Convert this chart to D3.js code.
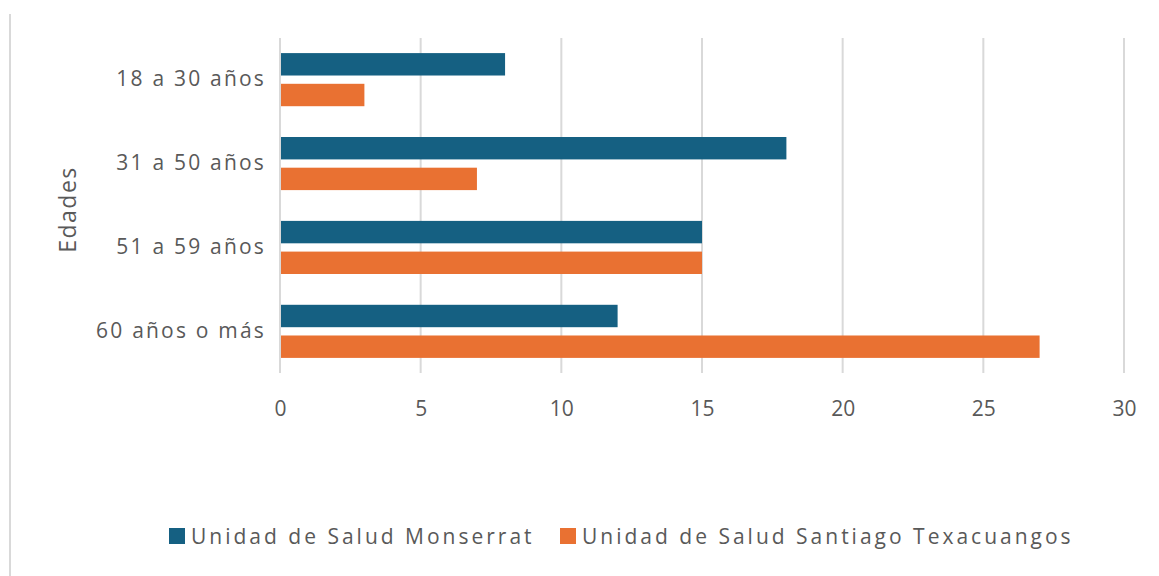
<!DOCTYPE html>
<html>
<head>
<meta charset="utf-8">
<script src="https://cdn.jsdelivr.net/npm/d3@7"></script>
<style>
  body { margin: 0; background: #fff; }
  text { font-family: "Open Sans", "Noto Sans", sans-serif; fill: #595959; }
</style>
</head>
<body>
<svg id="chart"></svg>
<script>
const categories = ["18 a 30 años", "31 a 50 años", "51 a 59 años", "60 años o más"];
const seriesNames = ["Unidad de Salud Monserrat", "Unidad de Salud Santiago Texacuangos"];
const monserrat = [8, 18, 15, 12];
const texacuangos = [3, 7, 15, 27];
const xTicks = [0, 5, 10, 15, 20, 25, 30];
const colors = ["#156082", "#e97132"];

const width = 1159, height = 576;
const margin = {top: 38, right: 35, bottom: 203, left: 280};

const svg = d3.select("#chart")
    .attr("width", width)
    .attr("height", height);

// outer frame line on the left
svg.append("line")
    .attr("x1", 10).attr("x2", 10)
    .attr("y1", 14).attr("y2", height)
    .attr("stroke", "#d9d9d9")
    .attr("stroke-width", 2);

const x = d3.scaleLinear()
    .domain([0, 30])
    .range([margin.left, width - margin.right]);

const y = d3.scaleBand()
    .domain(categories)
    .range([margin.top, height - margin.bottom])
    .paddingInner(0.367)
    .paddingOuter(0.18);

const ySub = d3.scaleBand()
    .domain(seriesNames)
    .range([0, y.bandwidth()])
    .paddingInner(0.27);

// gridlines
svg.append("g")
    .selectAll("line")
    .data(xTicks)
    .join("line")
      .attr("x1", d => x(d)).attr("x2", d => x(d))
      .attr("y1", margin.top).attr("y2", height - margin.bottom)
      .attr("stroke", "#d9d9d9")
      .attr("stroke-width", 2);

// bars
const rows = categories.map((c, i) => ({cat: c, vals: [monserrat[i], texacuangos[i]]}));

svg.append("g")
    .selectAll("g")
    .data(rows)
    .join("g")
      .attr("transform", d => "translate(0," + y(d.cat) + ")")
    .selectAll("rect")
    .data(d => d.vals.map((v, j) => ({name: seriesNames[j], value: v, j: j})))
    .join("rect")
      .attr("x", x(0) + 1)
      .attr("y", d => ySub(d.name))
      .attr("width", d => x(d.value) - x(0) - 1)
      .attr("height", ySub.bandwidth())
      .attr("fill", d => colors[d.j]);

// x axis labels
const xAxis = svg.append("g")
    .attr("transform", "translate(0," + (height - margin.bottom) + ")")
    .call(d3.axisBottom(x).tickValues(xTicks).tickSize(0).tickPadding(28));
xAxis.select(".domain").remove();
xAxis.selectAll("text")
    .style("font-size", "21px")
    .style("font-family", "'Open Sans', sans-serif")
    .attr("fill", "#595959");

// y axis labels
const yAxis = svg.append("g")
    .attr("transform", "translate(" + (margin.left - 14) + ",0)")
    .call(d3.axisLeft(y).tickSize(0).tickPadding(0));
yAxis.select(".domain").remove();
yAxis.selectAll("text")
    .style("font-size", "21px")
    .style("font-family", "'Open Sans', sans-serif")
    .style("letter-spacing", "2.2px")
    .attr("fill", "#595959");

// axis title
svg.append("text")
    .attr("transform", "translate(76," + ((margin.top + height - margin.bottom) / 2 + 4) + ") rotate(-90)")
    .attr("text-anchor", "middle")
    .style("font-size", "23px")
    .style("letter-spacing", "1.5px")
    .text("Edades");

// legend
const legendItems = [
  {name: seriesNames[0], color: colors[0], x: 169},
  {name: seriesNames[1], color: colors[1], x: 560}
];
const legend = svg.append("g")
    .selectAll("g")
    .data(legendItems)
    .join("g")
      .attr("transform", d => "translate(" + d.x + ",528)");
legend.append("rect")
    .attr("width", 16).attr("height", 16)
    .attr("fill", d => d.color);
legend.append("text")
    .attr("x", 22)
    .attr("y", 16)
    .style("font-size", "21px")
    .style("letter-spacing", "3px")
    .text(d => d.name);
</script>
</body>
</html>
